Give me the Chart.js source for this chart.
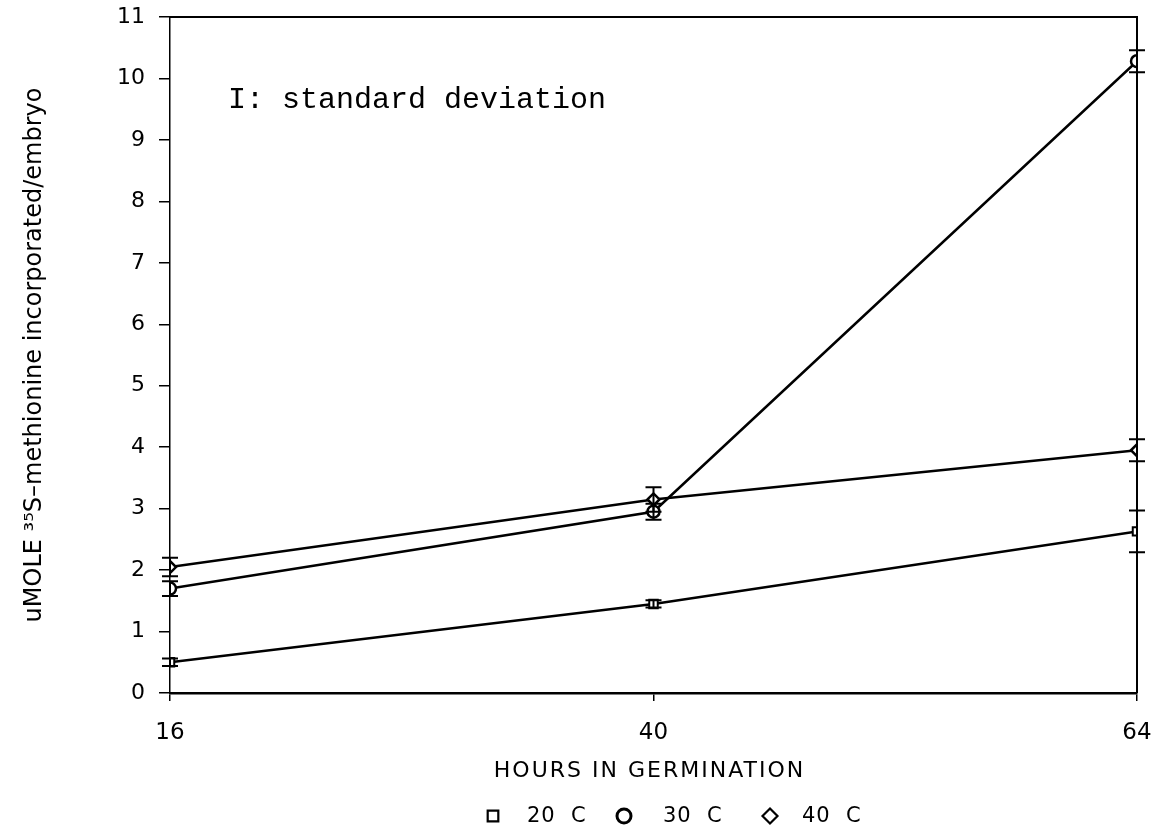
<!DOCTYPE html>
<html>
<head>
<meta charset="utf-8">
<script src="https://cdn.jsdelivr.net/npm/chart.js@4.4.1/dist/chart.umd.min.js"></script>
<style>
  html, body { margin: 0; padding: 0; background: #fff; }
  .chart-wrap { width: 1156px; height: 829px; }
</style>
</head>
<body>
<div class="chart-wrap"><canvas class="js-germination"></canvas></div>
<script>
const hours = [16, 40, 64];
const xTicks = [16, 40, 64];

const series20 = [0.5, 1.45, 2.63];
const series30 = [1.7, 2.95, 10.28];
const series40 = [2.05, 3.15, 3.95];

// standard deviations (error bars)
const sd20 = [0.06, 0.06, 0.34];
const sd30 = [0.12, 0.13, 0.18];
const sd40 = [0.15, 0.2, 0.18];

const yTitle = "uMOLE \u00b3\u2075S\u2013methionine incorporated/embryo";
const xTitle = "HOURS IN GERMINATION";
const noteText = "I: standard deviation";
// legend x positions of marker / text (px)
const legendMarkX = [493, 624, 770];
const legendTextX = [527, 663, 802];

const toPoints = function (values) {
  return hours.map((h, i) => ({ x: h, y: values[i] }));
};

// frame, error bars, note, x title and legend
const extras = {
  id: "extras",
  afterDatasetsDraw(chart) {
    const ctx = chart.ctx;
    const area = chart.chartArea;
    const yScale = chart.scales.y;
    ctx.save();
    ctx.strokeStyle = "#000";
    ctx.lineWidth = 2;
    ctx.beginPath();
    ctx.moveTo(area.left, area.top);
    ctx.lineTo(area.right, area.top);
    ctx.lineTo(area.right, area.bottom);
    ctx.stroke();

    chart.data.datasets.forEach((ds, i) => {
      const meta = chart.getDatasetMeta(i);
      meta.data.forEach((pt, j) => {
        const v = ds.data[j].y;
        const e = ds.sd[j];
        const top = yScale.getPixelForValue(v + e);
        const bot = yScale.getPixelForValue(v - e);
        ctx.beginPath();
        ctx.moveTo(pt.x, top);
        ctx.lineTo(pt.x, bot);
        ctx.moveTo(pt.x - 8, top);
        ctx.lineTo(pt.x + 8, top);
        ctx.moveTo(pt.x - 8, bot);
        ctx.lineTo(pt.x + 8, bot);
        ctx.stroke();
      });
    });

    ctx.fillStyle = "#000";
    ctx.font = "30px 'Liberation Mono'";
    ctx.textBaseline = "alphabetic";
    ctx.fillText(noteText, 228, 108);

    // x axis title
    ctx.font = "22px 'DejaVu Sans'";
    ctx.letterSpacing = "2px";
    ctx.textAlign = "center";
    ctx.textBaseline = "middle";
    ctx.fillText(xTitle, (area.left + area.right) / 2 - 4, 771);

    // legend
    ctx.textAlign = "left";
    ctx.letterSpacing = "1px";
    ctx.font = "21px 'DejaVu Sans'";
    chart.data.datasets.forEach((ds, i) => {
      ctx.fillStyle = "#fff";
      ctx.strokeStyle = "#000";
      ctx.lineWidth = i === 1 ? 3 : 2.2;
      Chart.helpers.drawPoint(
        ctx,
        { pointStyle: ds.pointStyle, radius: i === 1 ? 7 : 7.5, rotation: 0, borderWidth: ctx.lineWidth },
        legendMarkX[i],
        816
      );
      ctx.fillStyle = "#000";
      ctx.fillText(ds.label.replace(" ", "  "), legendTextX[i], 817);
    });
    ctx.restore();
  },
};

const chartgermination = function () {
  const canvas = document.querySelector(".js-germination");

  new Chart(canvas, {
    type: "line",
    data: {
      datasets: [
        {
          label: "20 C",
          data: toPoints(series20),
          sd: sd20,
          borderColor: "#000",
          backgroundColor: "#fff",
          borderWidth: 2.5,
          pointStyle: "rect",
          pointRadius: 6,
          pointBorderWidth: 2,
        },
        {
          label: "30 C",
          data: toPoints(series30),
          sd: sd30,
          borderColor: "#000",
          backgroundColor: "#fff",
          borderWidth: 2.5,
          pointStyle: "circle",
          pointRadius: 6,
          pointBorderWidth: 2.5,
        },
        {
          label: "40 C",
          data: toPoints(series40),
          sd: sd40,
          borderColor: "#000",
          backgroundColor: "#fff",
          borderWidth: 2.5,
          pointStyle: "rectRot",
          pointRadius: 6,
          pointBorderWidth: 2.5,
        },
      ],
    },
    options: {
      responsive: true,
      maintainAspectRatio: false,
      animation: false,
      layout: {
        padding: { left: 20, right: 19, top: 17, bottom: 0 },
      },
      scales: {
        x: {
          type: "linear",
          min: 16,
          max: 64,
          afterBuildTicks: (axis) => {
            axis.ticks = xTicks.map((v) => ({ value: v }));
          },
          afterFit: (axis) => {
            axis.height = 136;
            axis.paddingLeft = 0;
            axis.paddingRight = 0;
          },
          border: { color: "#000", width: 2.5 },
          grid: {
            drawOnChartArea: false,
            drawTicks: true,
            tickLength: 8,
            tickColor: "#000",
            lineWidth: 1.5,
          },
          ticks: {
            color: "#000",
            font: { family: "DejaVu Sans", size: 23 },
            padding: 18,
            maxRotation: 0,
          },
        },
        y: {
          min: 0,
          max: 11,
          afterFit: (axis) => {
            axis.width = 150;
            axis.paddingTop = 0;
            axis.paddingBottom = 0;
          },
          border: { color: "#000", width: 1.5, dash: [14, 3] },
          grid: {
            drawOnChartArea: false,
            drawTicks: true,
            tickLength: 11,
            tickColor: "#000",
            lineWidth: 1.5,
          },
          ticks: {
            color: "#000",
            stepSize: 1,
            font: { family: "DejaVu Sans", size: 22 },
            padding: 14,
          },
          title: {
            display: true,
            text: yTitle,
            color: "#000",
            font: { family: "DejaVu Sans", size: 24 },
            padding: { top: 0, bottom: 0 },
          },
        },
      },
      plugins: {
        legend: { display: false },
        tooltip: { enabled: false },
      },
    },
    plugins: [extras],
  });
};

const init = function () {
  chartgermination();
};

document.addEventListener("DOMContentLoaded", init);
</script>
</body>
</html>
